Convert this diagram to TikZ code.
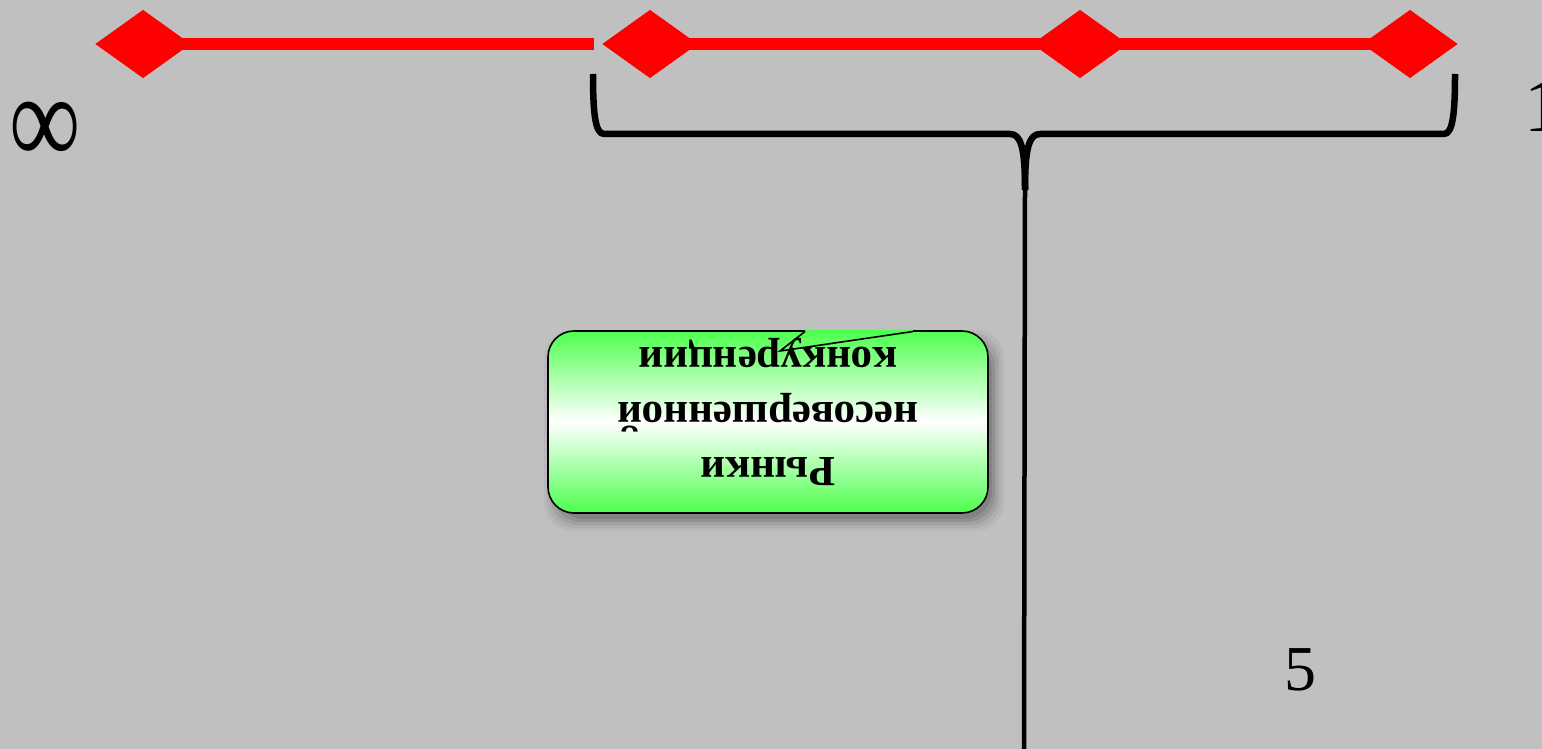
\documentclass[tikz,border=0pt]{standalone}
\usepackage{fontspec}
\setmainfont{Liberation Serif}
\usetikzlibrary{shapes.geometric}
\definecolor{bg}{HTML}{C0C0C0}
\definecolor{callgreen}{HTML}{4DFF4D}
\tikzset{
  marker/.style={diamond, fill=red, draw=none, minimum width=95pt, minimum height=68pt, inner sep=0pt, aspect=1.4},
  redline/.style={draw=red, line width=12pt},
  bracestroke/.style={draw=black, line width=6.5pt, line join=round},
  stem/.style={draw=black, line width=4.5pt},
  numlabel/.style={inner sep=0pt, anchor=center},
}
\begin{document}
\begin{tikzpicture}[x=1pt,y=-1pt]
\useasboundingbox (0,0) rectangle (1542,749);
\fill[bg] (0,0) rectangle (1542,749);

% red scale
\node[marker] (d1) at (143,44) {};
\node[marker] (d2) at (650,44) {};
\node[marker] (d3) at (1080,44) {};
\node[marker] (d4) at (1410,44) {};
\coordinate (e1) at (594,44);
\draw[redline] (d1.center) -- (e1);
\draw[redline] (d2.center) -- (d3.center);
\draw[redline] (d3.center) -- (d4.center);
\node[marker] at (d1) {};
\node[marker] at (d2) {};
\node[marker] at (d3) {};
\node[marker] at (d4) {};

% brace
\coordinate (bl) at (593,74);
\coordinate (br) at (1455,74);
\coordinate (tip) at (1025,190);
\coordinate (bottom) at (1024,749);
\draw[bracestroke] (bl) .. controls (593,112) and (595,134) .. (604,134) -- (1010,134)
   .. controls (1021,134) and (1025,148) .. (tip);
\draw[bracestroke] (br) .. controls (1455,112) and (1453,134) .. (1444,134) -- (1040,134)
   .. controls (1029,134) and (1025,148) .. (tip);
\draw[stem] (tip) -- (bottom);

% callout shadow
\foreach \o/\a in {16/0.04,13/0.05,10/0.07,7/0.09,4/0.1}{
  \fill[black, opacity=\a, rounded corners=28pt] (548-\o+12,330-\o+16) rectangle (988+\o,513+\o+2);
}
% callout
\path[top color=callgreen, bottom color=callgreen, middle color=white, rounded corners=26pt]
  (548,330) rectangle (988,513);
\draw[black, line width=1.6pt, rounded corners=26pt]
  (805,331) -- (548,331) -- (548,513) -- (988,513) -- (988,331) -- (913,331);
\draw[black, line width=1.6pt, line join=miter] (805,331.5) -- (780,351) -- (913,331.5);
\node[rotate=180, align=center, font=\fontsize{43}{55}\selectfont\bfseries, inner sep=0pt] (txt) at (768,412)
  {Рынки\\несовершенной\\конкуренции};

% labels
\node[numlabel, font=\fontsize{100}{100}\selectfont, yscale=1.3] (inf) at (45,133) {∞};
\node[numlabel, font=\fontsize{76}{76}\selectfont, anchor=west] (one) at (1524,106) {1};
\node[numlabel, font=\fontsize{64}{64}\selectfont] (five) at (1300,670) {5};
\end{tikzpicture}
\end{document}
